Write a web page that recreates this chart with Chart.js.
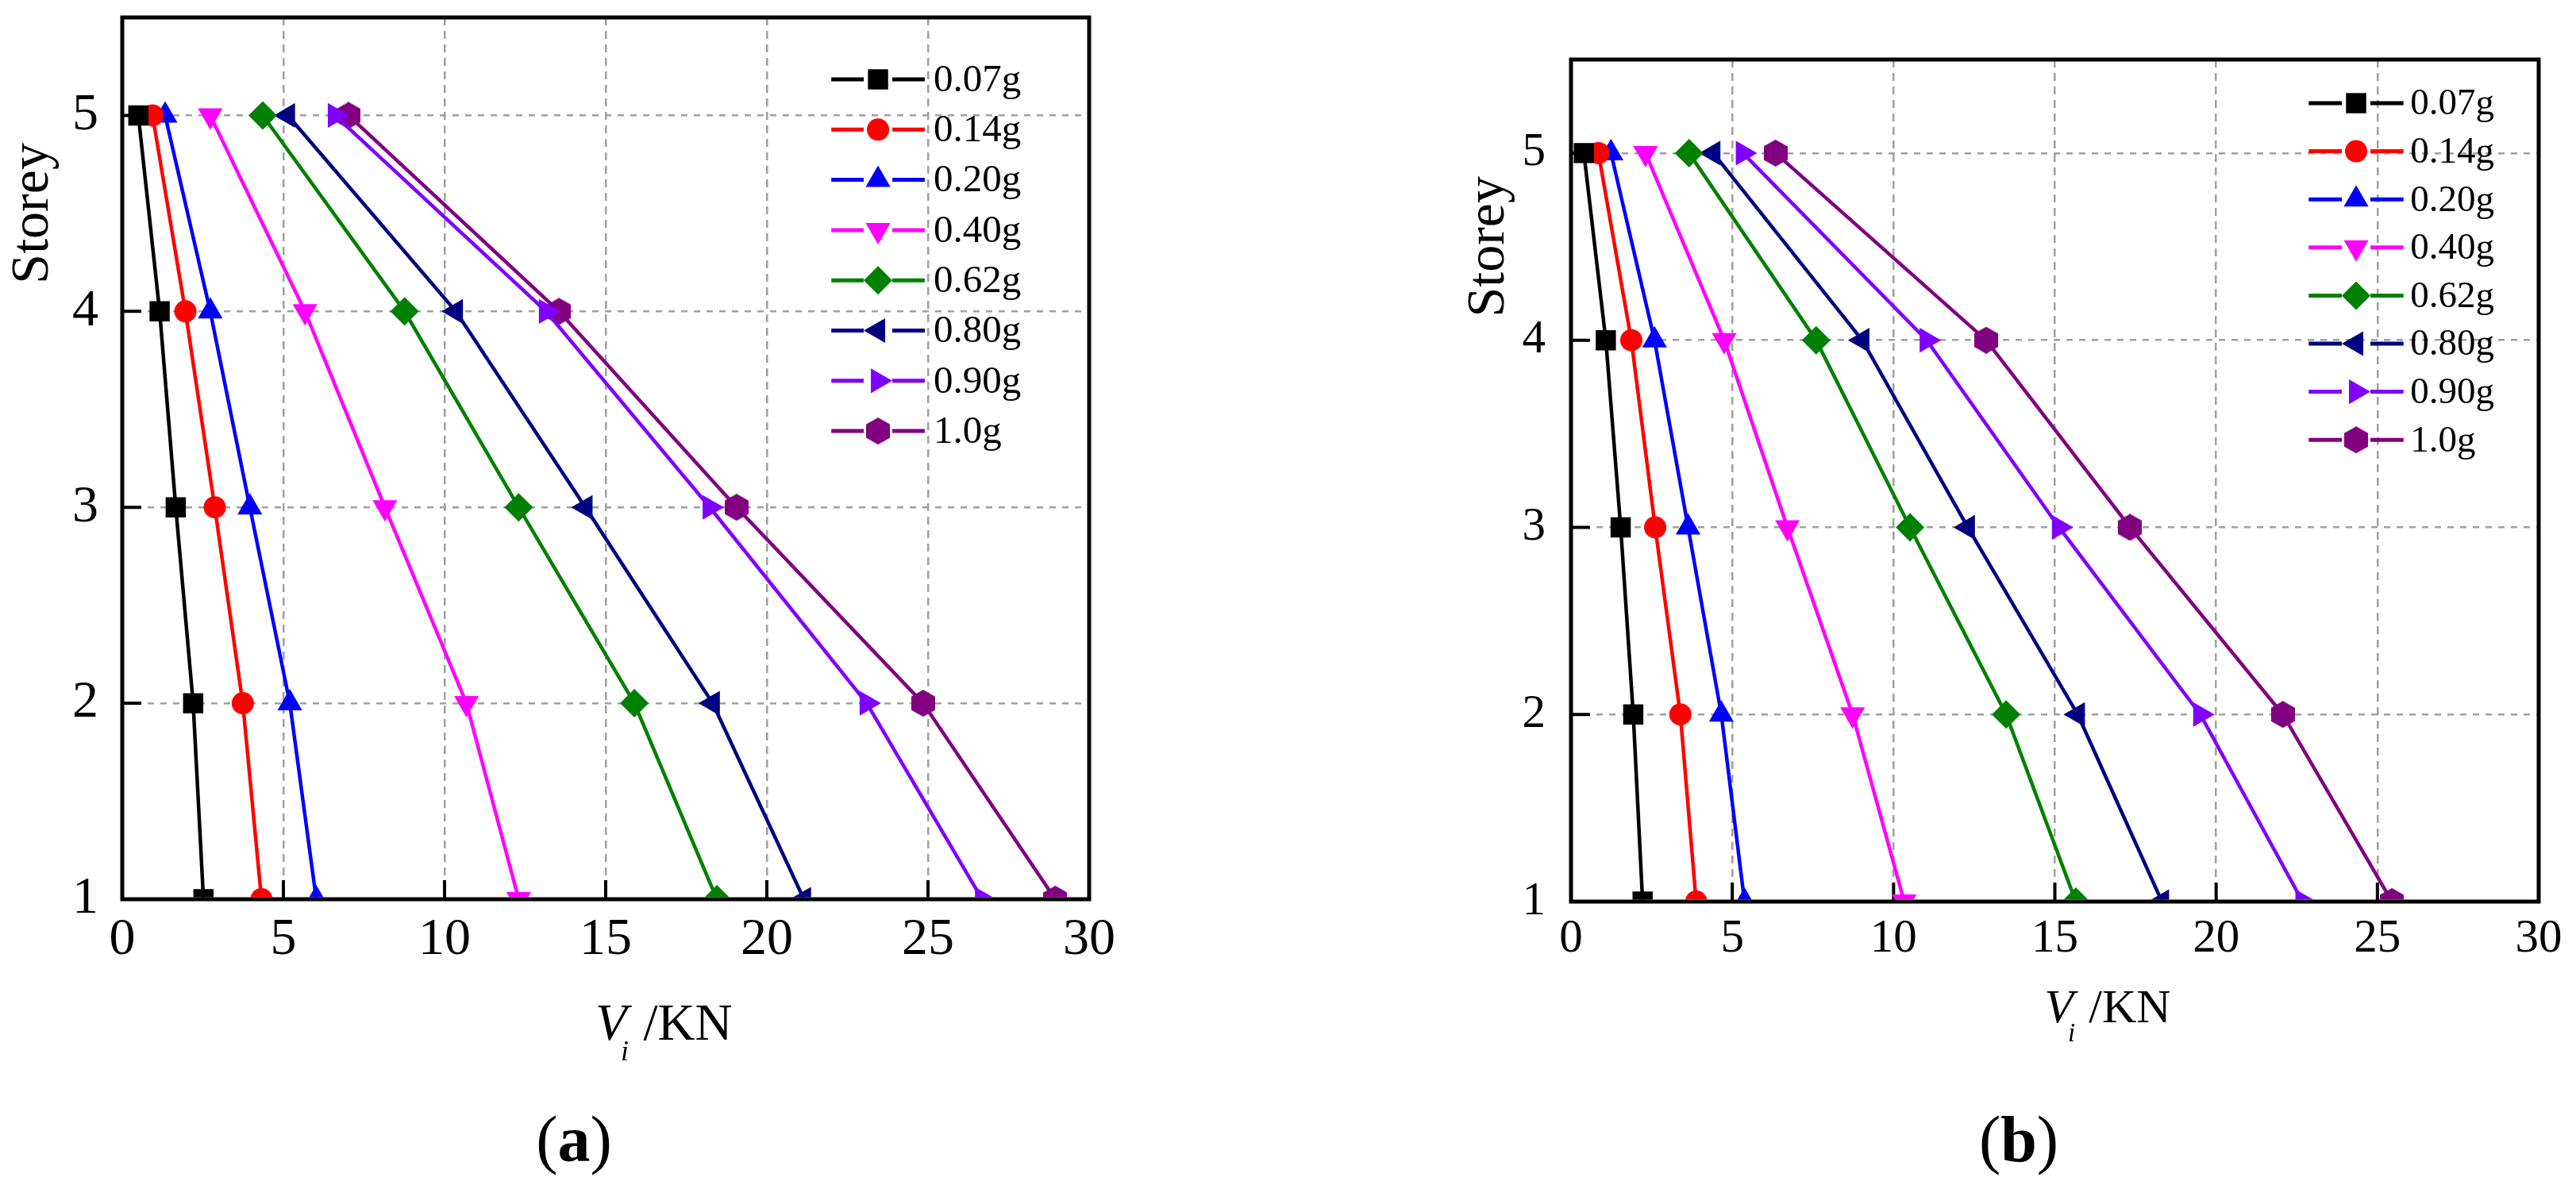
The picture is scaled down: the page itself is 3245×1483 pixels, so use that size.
<!DOCTYPE html>
<html>
<head>
<meta charset="utf-8">
<script src="https://cdn.jsdelivr.net/npm/chart.js@4.4.1/dist/chart.umd.min.js"></script>
<style>
html,body{margin:0;padding:0;background:#fff;width:3245px;height:1483px;overflow:hidden;}
canvas{position:absolute;top:0;}
#ca{left:0;}
#cb{left:1620px;}
.cap{position:absolute;font-family:'Liberation Serif','Times New Roman',serif;font-size:82px;line-height:1;transform:translate(-50%,-50%);color:#000;white-space:nowrap;}
</style>
</head>
<body>
<canvas id="ca" width="1620" height="1483"></canvas>
<canvas id="cb" width="1625" height="1483"></canvas>
<div class="cap" style="left:723px;top:1436px;">(<b>a</b>)</div>
<div class="cap" style="left:2543px;top:1436px;">(<b>b</b>)</div>
<script>
// ---------- data ----------
const storeys = [1, 2, 3, 4, 5];
const seriesLabels = ['0.07g', '0.14g', '0.20g', '0.40g', '0.62g', '0.80g', '0.90g', '1.0g'];
const xTickValues = [0, 5, 10, 15, 20, 25, 30];
const yTickValues = [1, 2, 3, 4, 5];

// Panel (a): storey shear V_i (kN) at storey 1..5
const a_007 = [2.52, 2.20, 1.66, 1.16, 0.50];
const a_014 = [4.32, 3.74, 2.87, 1.96, 0.94];
const a_020 = [6.02, 5.20, 3.96, 2.73, 1.33];
const a_040 = [12.30, 10.68, 8.15, 5.67, 2.73];
const a_062 = [18.45, 15.89, 12.30, 8.76, 4.36];
const a_080 = [21.15, 18.32, 14.37, 10.35, 5.14];
const a_090 = [26.68, 23.10, 18.23, 13.15, 6.60];
const a_100 = [28.95, 24.85, 19.06, 13.55, 7.02];

// Panel (b)
const b_007 = [2.22, 1.93, 1.54, 1.08, 0.40];
const b_014 = [3.88, 3.39, 2.61, 1.87, 0.85];
const b_020 = [5.38, 4.66, 3.63, 2.59, 1.24];
const b_040 = [10.33, 8.73, 6.71, 4.75, 2.31];
const b_062 = [15.65, 13.49, 10.51, 7.60, 3.66];
const b_080 = [18.32, 15.71, 12.30, 9.03, 4.41];
const b_090 = [22.68, 19.51, 15.13, 11.03, 5.33];
const b_100 = [25.45, 22.07, 17.33, 12.87, 6.34];

// ---------- styles ----------
const FONT = "'Liberation Serif', 'Times New Roman', serif";
const GRID = '#a0a0a0';
const colors = ['#000000', '#FF0000', '#0000FF', '#FF00FF', '#008000', '#000080', '#8000FF', '#800080'];

function makeHexagon(color, w, h) {
  const c = document.createElement('canvas');
  c.width = w; c.height = h;
  const g = c.getContext('2d');
  g.fillStyle = color;
  g.beginPath();
  for (let k = 0; k < 6; k++) {
    const t = Math.PI / 2 + k * Math.PI / 3;
    const px = w / 2 + (w / 2) * Math.cos(t) / Math.cos(Math.PI / 6);
    const py = h / 2 - (h / 2) * Math.sin(t);
    if (k === 0) g.moveTo(px, py); else g.lineTo(px, py);
  }
  g.closePath();
  g.fill();
  return c;
}
const hexImg = makeHexagon('#800080', 30, 34);
const pointStyles = ['rect', 'circle', 'triangle', 'triangle', 'rectRot', 'triangle', 'triangle', hexImg];
const rotations = [0, 0, 0, 180, 0, 270, 90, 0];
const radii = [18, 14, 18, 18, 18, 18, 18, 16];

function buildDatasets(seriesList) {
  return seriesList.map((vals, i) => ({
    label: seriesLabels[i],
    data: storeys.map((s, k) => ({ x: vals[k], y: s })),
    borderColor: colors[i],
    backgroundColor: colors[i],
    pointBackgroundColor: colors[i],
    pointBorderColor: colors[i],
    pointBorderWidth: 0,
    borderWidth: 4.5,
    pointStyle: pointStyles[i],
    pointRotation: rotations[i],
    pointRadius: radii[i],
    tension: 0,
    clip: { left: false, top: false, right: false, bottom: -2.5 }
  }));
}

// ---------- plugins ----------
const framePlugin = {
  id: 'frame',
  beforeDatasetsDraw(chart, args, o) {
    const { ctx, chartArea: a, scales: { x, y } } = chart;
    ctx.save();
    ctx.strokeStyle = '#000';
    ctx.lineWidth = o.tickWidth;
    ctx.beginPath();
    xTickValues.forEach(v => {
      const px = x.getPixelForValue(v);
      ctx.moveTo(px, a.bottom);
      ctx.lineTo(px, a.bottom - o.tickLen);
    });
    yTickValues.forEach(v => {
      const py = y.getPixelForValue(v);
      ctx.moveTo(a.left, py);
      ctx.lineTo(a.left + o.tickLen, py);
    });
    ctx.stroke();
    ctx.lineWidth = o.frameWidth;
    ctx.lineJoin = 'miter';
    ctx.strokeRect(a.left, a.top, a.right - a.left, a.bottom - a.top);
    ctx.restore();
  }
};

const legendPlugin = {
  id: 'insideLegend',
  afterDatasetsDraw(chart, args, o) {
    const { ctx, chartArea: a, scales: { x } } = chart;
    const x1 = x.getPixelForValue(o.lineStart);
    const x2 = x.getPixelForValue(o.lineEnd);
    const xt = x.getPixelForValue(o.textStart);
    const xm = (x1 + x2) / 2;
    chart.data.datasets.forEach((ds, i) => {
      const yy = a.top + o.firstRow + i * o.rowStep;
      ctx.save();
      ctx.strokeStyle = ds.borderColor;
      ctx.lineWidth = o.lineWidth;
      ctx.beginPath();
      ctx.moveTo(x1, yy); ctx.lineTo(xm - o.gap, yy);
      ctx.moveTo(xm + o.gap, yy); ctx.lineTo(x2, yy);
      ctx.stroke();
      ctx.fillStyle = ds.pointBackgroundColor;
      ctx.strokeStyle = ds.pointBorderColor;
      Chart.helpers.drawPoint(ctx, {
        pointStyle: ds.pointStyle, radius: ds.pointRadius, rotation: ds.pointRotation, borderWidth: 0
      }, xm, yy);
      ctx.fillStyle = '#000';
      ctx.font = o.fontSize + 'px ' + FONT;
      ctx.textAlign = 'left';
      ctx.textBaseline = 'middle';
      ctx.fillText(ds.label, xt, yy + 2);
      ctx.restore();
    });
  }
};

const titlesPlugin = {
  id: 'axisTitles',
  afterDraw(chart, args, o) {
    const { ctx, chartArea: a, scales: { x, y } } = chart;
    ctx.save();
    ctx.fillStyle = '#000';
    // y title
    ctx.save();
    ctx.translate(a.left - o.storeyOffset, y.getPixelForValue(o.storeyAt));
    ctx.rotate(-Math.PI / 2);
    ctx.font = o.storeyFont + 'px ' + FONT;
    ctx.textAlign = 'center';
    ctx.textBaseline = 'middle';
    ctx.fillText('Storey', 0, 0);
    ctx.restore();
    // x title: V_i /KN
    const fs = o.xFont;
    const px = x.getPixelForValue(o.xTitleStart);
    const base = a.bottom + o.xBaseline;
    ctx.textAlign = 'left';
    ctx.textBaseline = 'alphabetic';
    ctx.font = 'italic ' + fs + 'px ' + FONT;
    ctx.fillText('V', px, base);
    const wV = ctx.measureText('V').width;
    ctx.font = 'italic ' + Math.round(fs * 0.55) + 'px ' + FONT;
    ctx.fillText('i', px + wV - fs * 0.12, base + fs * 0.4);
    ctx.font = fs + 'px ' + FONT;
    ctx.fillText('/KN', px + wV + fs * 0.32, base);
    ctx.restore();
  }
};

function makeChart(canvasId, seriesList, o) {
  return new Chart(document.getElementById(canvasId), {
    type: 'line',
    data: { datasets: buildDatasets(seriesList) },
    plugins: [framePlugin, legendPlugin, titlesPlugin],
    options: {
      responsive: false,
      animation: false,
      events: [],
      layout: { padding: { left: 0, top: o.padTop, right: o.padRight, bottom: 0 } },
      plugins: {
        legend: { display: false },
        tooltip: { enabled: false },
        title: { display: false },
        frame: { tickLen: 24, tickWidth: 4, frameWidth: 5 },
        insideLegend: o.legend,
        axisTitles: o.titles
      },
      scales: {
        x: {
          type: 'linear', min: 0, max: 30,
          afterFit(s) { s.height = o.xAxisHeight; s.paddingLeft = 0; s.paddingRight = 0; },
          ticks: {
            stepSize: 5, autoSkip: false, maxRotation: 0, minRotation: 0,
            padding: o.xTickPad, color: '#000',
            font: { family: FONT, size: o.tickFont, lineHeight: 1.2 }
          },
          grid: { color: GRID, lineWidth: 2.5, drawTicks: false },
          border: { display: false, dash: [10, 7] }
        },
        y: {
          type: 'linear', min: 1, max: 5.5,
          afterFit(s) { s.width = o.yAxisWidth; s.paddingTop = 0; s.paddingBottom = 0; },
          ticks: {
            stepSize: 1, includeBounds: false, autoSkip: false,
            padding: o.yTickPad, color: '#000',
            font: { family: FONT, size: o.tickFont, lineHeight: 1.2 }
          },
          grid: { color: GRID, lineWidth: 2.5, drawTicks: false },
          border: { display: false, dash: [8, 8] }
        }
      }
    }
  });
}

makeChart('ca', [a_007, a_014, a_020, a_040, a_062, a_080, a_090, a_100], {
  padTop: 22, padRight: 248, yAxisWidth: 154, xAxisHeight: 350,
  tickFont: 66, xTickPad: 12, yTickPad: 30,
  legend: { lineStart: 22.0, lineEnd: 24.9, textStart: 25.17, firstRow: 78, rowStep: 63.3, fontSize: 49, gap: 18, lineWidth: 5 },
  titles: { storeyOffset: 112, storeyAt: 4.5, storeyFont: 68, xTitleStart: 14.68, xBaseline: 177, xFont: 65 }
});

makeChart('cb', [b_007, b_014, b_020, b_040, b_062, b_080, b_090, b_100], {
  padTop: 75, padRight: 47, yAxisWidth: 359, xAxisHeight: 347,
  tickFont: 59, xTickPad: 12, yTickPad: 32,
  legend: { lineStart: 22.87, lineEnd: 25.81, textStart: 26.02, firstRow: 55, rowStep: 60.6, fontSize: 47, gap: 18, lineWidth: 5 },
  titles: { storeyOffset: 103, storeyAt: 4.5, storeyFont: 68, xTitleStart: 14.68, xBaseline: 152, xFont: 60 }
});
</script>
</body>
</html>
